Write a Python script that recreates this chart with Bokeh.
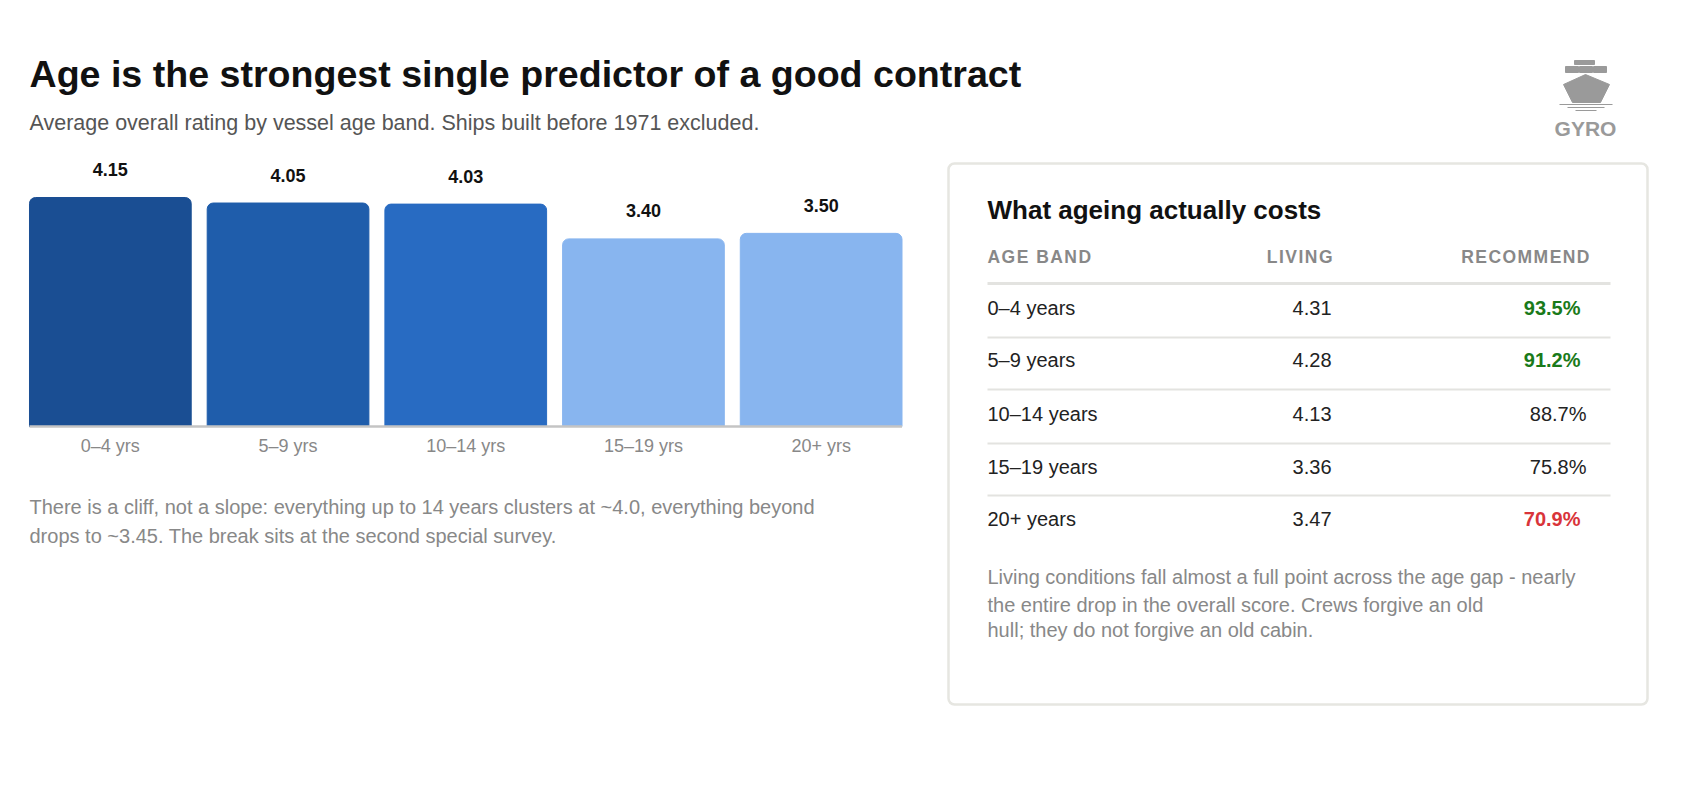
from bokeh.plotting import figure
from bokeh.models import Range1d
from bokeh.core.properties import value
from bokeh.embed import file_html
from bokeh.resources import INLINE

FONT = "Liberation Sans"
bands = ["0–4 yrs", "5–9 yrs", "10–14 yrs", "15–19 yrs", "20+ yrs"]
overall = [4.15, 4.05, 4.03, 3.40, 3.50]
bar_colors = ["#1a4e93", "#1f5dab", "#286bc2", "#88b5ef", "#88b5ef"]
row_labels = ["0–4 years", "5–9 years", "10–14 years", "15–19 years", "20+ years"]
living = [4.31, 4.28, 4.13, 3.36, 3.47]
recommend = [93.5, 91.2, 88.7, 75.8, 70.9]
rec_colors = ["#1a7a1a", "#1a7a1a", "#222222", "#222222", "#d9343a"]
rec_bold = ["bold", "bold", "normal", "normal", "bold"]
headers = ["AGE BAND", "LIVING", "RECOMMEND"]
title = "Age is the strongest single predictor of a good contract"
subtitle = "Average overall rating by vessel age band. Ships built before 1971 excluded."
note_left = ["There is a cliff, not a slope: everything up to 14 years clusters at ~4.0, everything beyond",
             "drops to ~3.45. The break sits at the second special survey."]
note_right = ["Living conditions fall almost a full point across the age gap - nearly",
              "the entire drop in the overall score. Crews forgive an old",
              "hull; they do not forgive an old cabin."]

W, H = 1673, 771
OX, OY = 8, 8
p = figure(width=W, height=H, x_range=Range1d(-OX, W - OX), y_range=Range1d(H - OY, -OY),
           output_backend="svg", toolbar_location=None)
p.axis.visible = False
p.grid.visible = False
p.outline_line_color = None
p.min_border = 0

# bar scale (frame pixels)
BL, SLOT, BASE, PXU = 21, 177.7, 426, (418 - 189) / 4.15
xs = -0.5 - BL / SLOT
ys = -(H - BASE) / PXU
p.extra_x_ranges = {"bx": Range1d(xs, xs + W / SLOT)}
p.extra_y_ranges = {"by": Range1d(ys, ys + H / PXU)}
idx = list(range(len(bands)))

# header
p.text(x=[21], y=[65], text=[title], text_font=value(FONT), text_font_size="37.6px",
       text_font_style="bold", text_color="#111111", text_baseline="alphabetic")
p.text(x=[21], y=[114], text=[subtitle], text_font=value(FONT), text_font_size="21.5px",
       text_color="#555555", text_baseline="middle")
g = "#9a9a9a"
p.quad(left=[1557, 1571, 1585, 1566], right=[1570, 1584, 1598, 1586], top=[58, 58, 58, 52], bottom=[64, 64, 64, 56], color=g)
p.patch(x=[1555, 1577, 1601, 1592, 1564], y=[76, 66, 76, 94, 94], color=g)
p.multi_line(xs=[[1551, 1604], [1559, 1596], [1567, 1588]], ys=[[96, 96], [99, 99], [102, 102]],
             line_color=g, line_width=1.2)
p.text(x=[1577], y=[120], text=["GYRO"], text_font=value(FONT), text_font_size="21px",
       text_font_style="bold", text_color=g, text_align="center", text_baseline="middle")

# bars
p.vbar(x=idx, top=overall, width=0.91, color=bar_colors, border_radius=(6, 6, 0, 0),
       x_range_name="bx", y_range_name="by")
p.text(x=idx, y=overall, text=[f"{v:.2f}" for v in overall], y_offset=-28,
       x_range_name="bx", y_range_name="by",
       text_font=value(FONT), text_font_size="18px", text_font_style="bold",
       text_color="#111111", text_align="center", text_baseline="middle")
p.segment(x0=[-0.455], x1=[4.455], y0=[0], y1=[0], line_color="#c4c4c4", line_width=2.5,
          x_range_name="bx", y_range_name="by")
p.text(x=idx, y=[0] * 5, text=bands, y_offset=19, x_range_name="bx", y_range_name="by",
       text_font=value(FONT), text_font_size="18px", text_color="#888888",
       text_align="center", text_baseline="middle")
p.text(x=[21, 21], y=[498, 527], text=note_left, text_font=value(FONT), text_font_size="20px",
       text_color="#888888", text_baseline="middle")

# table panel
p.quad(left=[940], right=[1639], top=[155], bottom=[696], fill_color="white",
       line_color="#e6e6e1", line_width=2.5, border_radius=6)
p.text(x=[979], y=[201], text=["What ageing actually costs"], text_font=value(FONT),
       text_font_size="26px", text_font_style="bold", text_color="#111111", text_baseline="middle")
sp = lambda s: "\u200a".join(s)
p.text(x=[979, 1324, 1581], y=[248] * 3, text=[sp(h) for h in headers],
       text_align=["left", "right", "right"], text_font=value(FONT), text_font_size="17.5px",
       text_font_style="bold", text_color="#888888", text_baseline="middle")
p.multi_line(xs=[[979, 1602]] * 5, ys=[[275, 275], [329, 329], [381, 381], [435, 435], [487, 487]],
             line_color="#e3e3e0", line_width=[3, 2, 2, 2, 2])
ry = [299, 351, 405, 458, 510]
p.text(x=[979] * 5, y=ry, text=row_labels, text_font=value(FONT), text_font_size="20px",
       text_color="#222222", text_baseline="middle")
p.text(x=[1323] * 5, y=ry, text=[f"{v:.2f}" for v in living], text_font=value(FONT),
       text_font_size="20px", text_color="#222222", text_baseline="middle", text_align="right")
p.text(x=[1572 if s == "bold" else 1578 for s in rec_bold], y=ry,
       text=[f"{v:.1f}%" for v in recommend], text_font=value(FONT),
       text_font_size="20px", text_color=rec_colors, text_font_style=rec_bold,
       text_baseline="middle", text_align="right")
p.text(x=[979] * 3, y=[568, 596, 621], text=note_right, text_font=value(FONT),
       text_font_size="20px", text_color="#888888", text_baseline="middle")

open("out.html", "w").write(file_html(p, INLINE))
